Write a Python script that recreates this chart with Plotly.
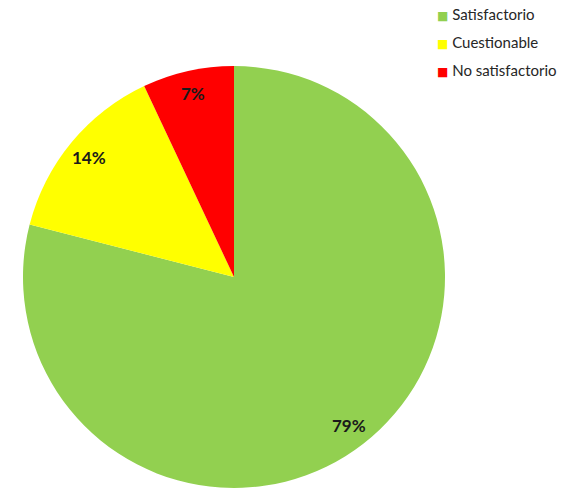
import math
import plotly.graph_objects as go

# Category shares (percent)
categories = ["Satisfactorio", "Cuestionable", "No satisfactorio"]
shares = [79, 14, 7]
colors = ["#92D050", "#FFFF00", "#FF0000"]

W, H = 565, 490
cx, cy, r = 234, 277, 211  # pie centre and radius in pixels

dom_x = [(cx - r) / W, (cx + r) / W]
dom_y = [1 - (cy + r) / H, 1 - (cy - r) / H]

fig = go.Figure(
    go.Pie(
        labels=categories,
        values=shares,
        sort=False,
        direction="clockwise",
        rotation=0,
        marker=dict(colors=colors, line=dict(width=0)),
        textinfo="none",
        hoverinfo="label+percent",
        domain=dict(x=dom_x, y=dom_y),
        showlegend=False,
    )
)

# Percentage labels placed along each slice's mid-angle
total = sum(shares)
cum = 0
annotations = []
for v in shares:
    mid = (cum + v / 2) / total * 2 * math.pi
    cum += v
    px = cx + 0.89 * r * math.sin(mid)
    py = cy - 0.89 * r * math.cos(mid)
    annotations.append(
        dict(
            x=px / W,
            y=1 - py / H,
            xref="paper",
            yref="paper",
            text=f"<b>{round(v / total * 100)}%</b>",
            showarrow=False,
            font=dict(family="Lato", size=17, color="#1a1a1a"),
            xanchor="center",
            yanchor="middle",
        )
    )

# Compact legend: coloured square followed by the category name
for i, (name, col) in enumerate(zip(categories, colors)):
    annotations.append(
        dict(
            x=435 / W,
            y=1 - (14 + 28 * i) / H,
            xref="paper",
            yref="paper",
            text=(
                f"<span style='color:{col};font-family:DejaVu Sans;font-size:12px'>■</span>"
                f" {name}"
            ),
            showarrow=False,
            font=dict(family="Lato", size=15, color="#262626"),
            xanchor="left",
            yanchor="middle",
        )
    )

fig.update_layout(
    width=W,
    height=H,
    margin=dict(l=0, r=0, t=0, b=0, autoexpand=False),
    paper_bgcolor="white",
    plot_bgcolor="white",
    annotations=annotations,
    showlegend=False,
)

fig.write_html("out.html")
